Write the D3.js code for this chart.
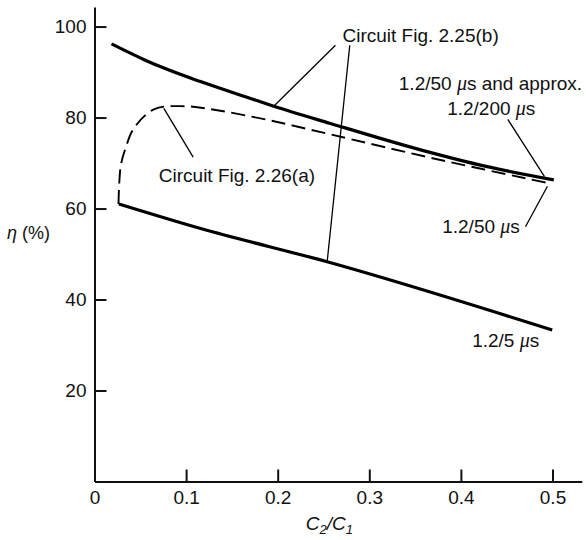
<!DOCTYPE html>
<html><head><meta charset="utf-8">
<script src="https://cdn.jsdelivr.net/npm/d3@7"></script>
<style>
html,body{margin:0;padding:0;background:#fff;}
text{font-family:"Liberation Sans",Arial,sans-serif;fill:#111;}
</style></head>
<body><svg id="c" width="588" height="540"></svg>
<script>
// ---- data ----
const xTicks = [0, 0.1, 0.2, 0.3, 0.4, 0.5];
const yTicks = [20, 40, 60, 80, 100];
// Circuit Fig. 2.25(b): 1.2/50 us and approx. 1.2/200 us
const upperX = [0.0186, 0.0611, 0.1157, 0.1703, 0.1957, 0.2576, 0.356, 0.4287, 0.5014];
const upperY = [96.2, 92.1, 87.9, 84.2, 82.5, 78.7, 72.9, 69.2, 66.3];
// Circuit Fig. 2.26(a): 1.2/50 us (dashed)
const dashX = [0.0262, 0.0270, 0.0290, 0.0338, 0.0429, 0.0648, 0.0975, 0.134, 0.1885, 0.2576, 0.3704, 0.4978];
const dashY = [61.0, 65.5, 69.8, 73.2, 77.6, 81.8, 82.5, 81.6, 79.5, 76.3, 71.0, 65.5];
// Circuit Fig. 2.25(b): 1.2/5 us
const lowerX = [0.0266, 0.116, 0.254, 0.4997];
const lowerY = [61.0, 55.6, 48.3, 33.3];

const FS = 19;
const svg = d3.select("#c");
const x = d3.scaleLinear().domain([0, 0.532]).range([94.5, 581.8]);
const y = d3.scaleLinear().domain([0, 104.3]).range([481.5, 7]);

// axes
const ax = svg.append("g").attr("transform", `translate(0,${y(0)})`)
  .call(d3.axisBottom(x).tickValues(xTicks).tickSizeInner(-12).tickSizeOuter(0).tickPadding(9).tickFormat(d => d === 0 ? "0" : d3.format(".1f")(d)));
const ay = svg.append("g").attr("transform", `translate(${x(0)},0)`)
  .call(d3.axisLeft(y).tickValues(yTicks).tickSizeInner(-12).tickSizeOuter(0).tickPadding(8));
[ax, ay].forEach(g => {
  g.selectAll("path.domain").attr("stroke", "#111").attr("stroke-width", 2);
  g.selectAll(".tick line").attr("stroke", "#111").attr("stroke-width", 2);
  g.selectAll(".tick text").attr("font-size", FS).attr("font-family", "Liberation Sans, Arial, sans-serif").attr("fill", "#111");
});

// curves
const line = d3.line().x(d => x(d[0])).y(d => y(d[1])).curve(d3.curveMonotoneX);
const zip = (a, b) => a.map((v, i) => [v, b[i]]);
svg.append("path").attr("d", line(zip(upperX, upperY))).attr("fill", "none").attr("stroke", "#000").attr("stroke-width", 3.2);
svg.append("path").attr("d", line(zip(lowerX, lowerY))).attr("fill", "none").attr("stroke", "#000").attr("stroke-width", 3.2);
svg.append("path").attr("d", d3.line().x(d => x(d[0])).y(d => y(d[1])).curve(d3.curveCatmullRom)(zip(dashX, dashY)))
  .attr("fill", "none").attr("stroke", "#000").attr("stroke-width", 1.9).attr("stroke-dasharray", "14,6.5");

// leader lines (data coords)
const leaders = [
  [[0.2631, 95.9], [0.1957, 82.5]],
  [[0.2787, 95.9], [0.254, 48.3]],
  [[0.1077, 71.3], [0.0757, 82.0]],
  [[0.4512, 79.6], [0.4913, 67.0]],
  [[0.4705, 56.0], [0.4945, 64.9]]
];
leaders.forEach(l => svg.append("line")
  .attr("x1", x(l[0][0])).attr("y1", y(l[0][1])).attr("x2", x(l[1][0])).attr("y2", y(l[1][1]))
  .attr("stroke", "#000").attr("stroke-width", 1.3));

// labels
const labels = [
  {x: 0.2707, y: 96.6, parts: ["Circuit Fig. 2.25(b)"]},
  {x: 0.0702, y: 65.8, parts: ["Circuit Fig. 2.26(a)"]},
  {x: 0.3322, y: 86.0, parts: ["1.2/50 ", "μ", "s and approx."]},
  {x: 0.385, y: 80.5, parts: ["1.2/200 ", "μ", "s"]},
  {x: 0.3796, y: 54.6, parts: ["1.2/50 ", "μ", "s"]},
  {x: 0.4123, y: 29.6, parts: ["1.2/5 ", "μ", "s"]}
];
labels.forEach(L => {
  const t = svg.append("text").attr("x", x(L.x)).attr("y", y(L.y)).attr("font-size", FS);
  L.parts.forEach(p => {
    const s = t.append("tspan").text(p);
    if (p === "μ") s.attr("font-family", "Liberation Serif, serif").attr("font-style", "italic").attr("font-size", 20);
  });
});

// y-axis title
const yt = svg.append("text").attr("x", 7).attr("y", 239).attr("font-size", 18).attr("font-family", "Liberation Serif, serif");
yt.append("tspan").attr("font-style", "italic").text("η");
yt.append("tspan").text(" (%)");

// x-axis title
const xt = svg.append("text").attr("x", x(0.2565)).attr("y", 530).attr("text-anchor", "middle").attr("font-size", FS).attr("font-style", "italic");
xt.append("tspan").text("C");
xt.append("tspan").attr("font-size", 13).attr("dy", 4).text("2");
xt.append("tspan").attr("dy", -4).text("/C");
xt.append("tspan").attr("font-size", 13).attr("dy", 4).text("1");
</script></body></html>
